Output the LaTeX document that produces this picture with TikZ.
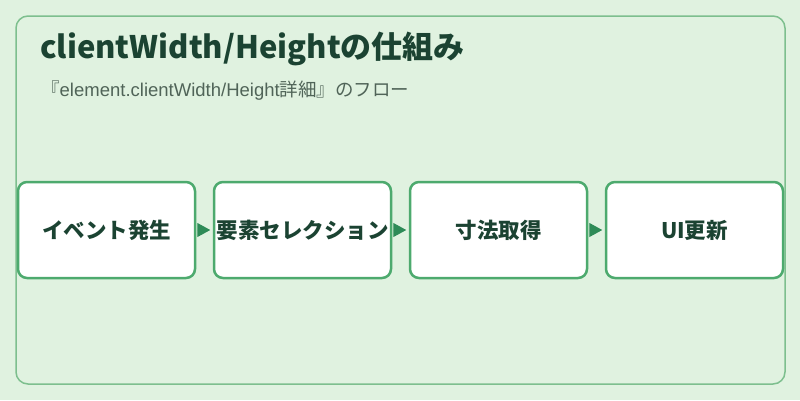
\documentclass[tikz,border=0pt]{standalone}
\usepackage{fontspec}
\setmainfont{Noto Sans CJK JP}
\newfontfamily\latinsub{Liberation Sans}
\usetikzlibrary{arrows.meta}
\definecolor{bgc}{HTML}{E0F2E0}
\definecolor{framec}{HTML}{7DBF8E}
\definecolor{boxc}{HTML}{4DAA6E}
\definecolor{arrc}{HTML}{2E8B57}
\definecolor{txtc}{HTML}{1B4332}
\definecolor{subc}{HTML}{506458}
\tikzset{
  stepbox/.style={draw=boxc, line width=2.5pt, fill=white, rounded corners=9pt,
    minimum width=177pt, minimum height=96pt, inner sep=0pt,
    font=\fontsize{21.5}{24}\selectfont\bfseries, text=txtc},
  flow/.style={-{Triangle[length=13pt,width=14pt]}, draw=arrc, fill=arrc, line width=1pt, shorten >=2.5pt, shorten <=1.5pt}
}
\begin{document}
\begin{tikzpicture}[x=1pt,y=-1pt]
\fill[bgc] (0,0) rectangle (800,400);
\useasboundingbox (0,0) rectangle (800,400);
\draw[framec, line width=1.5pt, rounded corners=12pt] (16,16) rectangle (785,384);
\node[anchor=base west, text=txtc, font=\fontsize{31}{36}\selectfont\bfseries, inner sep=0pt] (title) at (40,58) {clientWidth/Heightの仕組み};
\node[anchor=base west, text=subc, font=\fontsize{18.5}{20}\selectfont, inner sep=0pt] (sub) at (41,96.5) {『{\latinsub element.clientWidth/Height}詳細』のフロー};
\node[stepbox] (a) at (106.5,230) {イベント発生};
\node[stepbox] (b) at (302.5,230) {要素セレクション};
\node[stepbox] (c) at (498.5,230) {寸法取得};
\node[stepbox] (d) at (694.5,230) {UI更新};
\draw[flow] (a.east) -- (b.west);
\draw[flow] (b.east) -- (c.west);
\draw[flow] (c.east) -- (d.west);
\end{tikzpicture}
\end{document}
